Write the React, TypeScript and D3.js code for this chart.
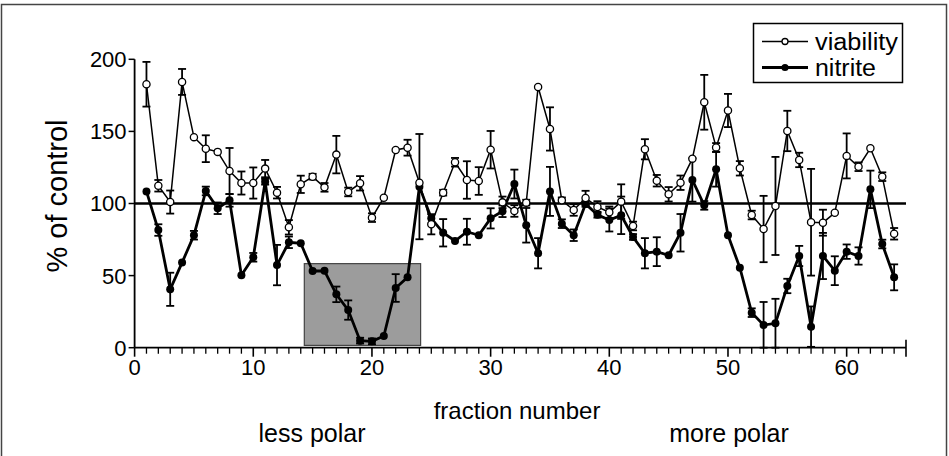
import React from "react";
import * as d3 from "d3";

const fractions = d3.range(1, 65);

const viability = [
  182.7, 112.3, 101, 184.3, 146, 138, 135.8, 122.5, 114.2, 114.2,
  124.2, 107.5, 83.5, 113.3, 118.6, 111.2, 133.9, 108, 114, 90.2,
  104, 137.1, 138.7, 114.4, 85.6, 107.5, 128.6, 116.3, 115.6, 137.3,
  100.8, 94.8, 100.6, 180.8, 151.7, 102.2, 95.5, 103.8, 97.6, 93.9,
  101.3, 84.4, 137.6, 115.8, 106.4, 114.4, 131.1, 170.2, 138.9, 164.5,
  124.4, 92, 82.3, 98.3, 150.3, 130.2, 87, 86.7, 93.6, 133,
  125.5, 138.3, 118.6, 79,
];
const viabilityErr = [
  15.5, 4, 8, 9, 1, 9.3, 1, 16, 8, 10.8,
  6, 4, 5, 6, 2, 3, 13, 3, 5, 3,
  1, 1, 5.5, 0, 7, 2, 3, 13, 9.6, 13,
  4, 4, 2, 0, 15, 2, 4, 5, 4, 4,
  12, 3, 7, 4, 5, 5, 1, 19, 3, 11.5,
  5, 3, 23, 34, 14, 5, 37, 9, 1, 15.6,
  3, 1, 3, 4,
];

const nitrite = [
  108.4, 81.6, 40.5, 59, 78, 108.7, 96.7, 102.2, 50.2, 62.7,
  115.1, 57.3, 73.1, 72.4, 53.2, 53.3, 37, 26.1, 4.9, 4.4,
  8.1, 41.4, 48.8, 111.7, 89.7, 79.7, 74, 80.4, 78, 89.7,
  94.6, 113.5, 84.9, 65.5, 108.4, 86, 78, 99.7, 92.2, 88.6,
  91.8, 76.8, 65.5, 66.6, 64.1, 79.7, 116.3, 98.7, 123.7, 78,
  55.5, 24.3, 15.7, 16.9, 42.8, 63.6, 14.6, 63.6, 53.4, 66.6,
  63.6, 109.8, 71.9, 48.8,
];
const nitriteErr = [
  0, 4, 11.5, 1, 3, 3, 4, 4.4, 1, 3,
  2, 14, 4, 0, 1, 1, 5.4, 6.7, 2, 2,
  1, 9.6, 1, 36.5, 0, 9.5, 1, 9, 1, 7,
  4, 10, 12, 10.5, 17, 3, 4, 2, 2, 8,
  13, 2, 10.5, 10, 1, 13, 15, 3, 12, 0,
  0, 3, 16, 17, 5, 7, 14, 16, 10, 5,
  6, 13, 3, 9,
];

const yTicks = [0, 50, 100, 150, 200];
const xMajorTicks = [0, 10, 20, 30, 40, 50, 60];
const xMinorTicks = d3.range(1, 65).filter((d) => d % 10 !== 0);
const highlightX = [14.3, 24.1];
const highlightY = [1.6, 58.3];
const referenceValue = 100;

const seriesNames = ["viability", "nitrite"];
const xLabel = "fraction number";
const yLabel = "% of control";
const leftNote = "less polar";
const rightNote = "more polar";

const FONT = "'Liberation Sans', Arial, Helvetica, sans-serif";

export default function App() {
  const x = d3.scaleLinear().domain([0, 65]).range([134.6, 906]);
  const y = d3.scaleLinear().domain([0, 200]).range([347.7, 59.3]);

  const lineGen = d3
    .line<number>()
    .x((_, i) => x(fractions[i]))
    .y((d) => y(d));

  const capW = 4;

  const errBars = (vals: number[], errs: number[], key: string) =>
    vals.map((v, i) => {
      const e = errs[i];
      if (!e || e < 1.5) return null;
      const cx = x(fractions[i]);
      const top = y(v + e);
      const bot = y(Math.max(0, v - e));
      return (
        <g key={key + i} stroke="#000" strokeWidth={1.8}>
          <line x1={cx} x2={cx} y1={top} y2={bot} />
          <line x1={cx - capW} x2={cx + capW} y1={top} y2={top} />
          <line x1={cx - capW} x2={cx + capW} y1={bot} y2={bot} />
        </g>
      );
    });

  return (
    <svg
      width={949}
      height={456}
      style={{ position: "absolute", left: 0, top: 0, background: "#fff" }}
      fontFamily={FONT}
    >
      <rect x={0} y={0} width={949} height={456} fill="#fff" />
      {/* outer frame */}
      <rect x={1.5} y={4.5} width={945} height={460} fill="none" stroke="#444" strokeWidth={1.5} />

      {/* highlighted region */}
      <rect
        x={x(highlightX[0])}
        y={y(highlightY[1])}
        width={x(highlightX[1]) - x(highlightX[0])}
        height={y(highlightY[0]) - y(highlightY[1])}
        fill="#9c9c9c"
        stroke="#444"
        strokeWidth={1.2}
      />

      {/* axes */}
      <line x1={x(0)} x2={x(0)} y1={y(200)} y2={y(0)} stroke="#000" strokeWidth={1.8} />
      <line x1={x(0)} x2={x(65)} y1={y(0)} y2={y(0)} stroke="#000" strokeWidth={1.8} />
      {yTicks.map((t) => (
        <g key={"yt" + t}>
          <line x1={x(0) - 6} x2={x(0)} y1={y(t)} y2={y(t)} stroke="#000" strokeWidth={1.5} />
          <text x={x(0) - 8} y={y(t)} dy="0.36em" textAnchor="end" fontSize={22} fill="#000">
            {t}
          </text>
        </g>
      ))}
      {xMinorTicks.map((t) => (
        <line key={"xm" + t} x1={x(t)} x2={x(t)} y1={y(0)} y2={y(0) + 6} stroke="#000" strokeWidth={1.3} />
      ))}
      {xMajorTicks.map((t) => (
        <g key={"xt" + t}>
          <line x1={x(t)} x2={x(t)} y1={y(0)} y2={y(0) + 9} stroke="#000" strokeWidth={1.6} />
          <text x={x(t)} y={y(0) + 27} textAnchor="middle" fontSize={22} fill="#000">
            {t}
          </text>
        </g>
      ))}
      <line x1={x(65)} x2={x(65)} y1={y(0) - 8} y2={y(0) + 9} stroke="#000" strokeWidth={1.6} />

      {/* reference line */}
      <line
        x1={x(0)}
        x2={x(65)}
        y1={y(referenceValue)}
        y2={y(referenceValue)}
        stroke="#000"
        strokeWidth={2.4}
      />

      {/* error bars */}
      {errBars(viability, viabilityErr, "ve")}
      {errBars(nitrite, nitriteErr, "ne")}

      {/* lines */}
      <path d={lineGen(viability) || ""} fill="none" stroke="#000" strokeWidth={1.5} />
      <path d={lineGen(nitrite) || ""} fill="none" stroke="#000" strokeWidth={2.8} />

      {/* markers */}
      {nitrite.map((v, i) => (
        <circle key={"nm" + i} cx={x(fractions[i])} cy={y(v)} r={4} fill="#000" />
      ))}
      {viability.map((v, i) => (
        <circle
          key={"vm" + i}
          cx={x(fractions[i])}
          cy={y(v)}
          r={3.6}
          fill="#fff"
          stroke="#000"
          strokeWidth={1.3}
        />
      ))}

      {/* axis labels */}
      <text
        transform={`translate(${67},${196}) rotate(-90)`}
        textAnchor="middle"
        fontSize={29}
        fill="#000"
      >
        {yLabel}
      </text>
      <text x={517} y={419} textAnchor="middle" fontSize={24} fill="#000">
        {xLabel}
      </text>
      <text x={312} y={442} textAnchor="middle" fontSize={25} fill="#000">
        {leftNote}
      </text>
      <text x={729} y={442} textAnchor="middle" fontSize={25} fill="#000">
        {rightNote}
      </text>

      {/* legend */}
      <g>
        <rect x={753.5} y={23.5} width={149} height={59} fill="#fff" stroke="#000" strokeWidth={1.5} />
        <line x1={762} x2={808} y1={41.5} y2={41.5} stroke="#000" strokeWidth={1.5} />
        <circle cx={785} cy={41.5} r={3} fill="#fff" stroke="#000" strokeWidth={1.3} />
        <text x={815} y={50} fontSize={23} textLength={83} lengthAdjust="spacingAndGlyphs" fill="#000">
          {seriesNames[0]}
        </text>
        <line x1={762} x2={808} y1={67.5} y2={67.5} stroke="#000" strokeWidth={3} />
        <circle cx={785} cy={67.5} r={3.6} fill="#000" />
        <text x={815} y={76} fontSize={23} textLength={61} lengthAdjust="spacingAndGlyphs" fill="#000">
          {seriesNames[1]}
        </text>
      </g>
    </svg>
  );
}
